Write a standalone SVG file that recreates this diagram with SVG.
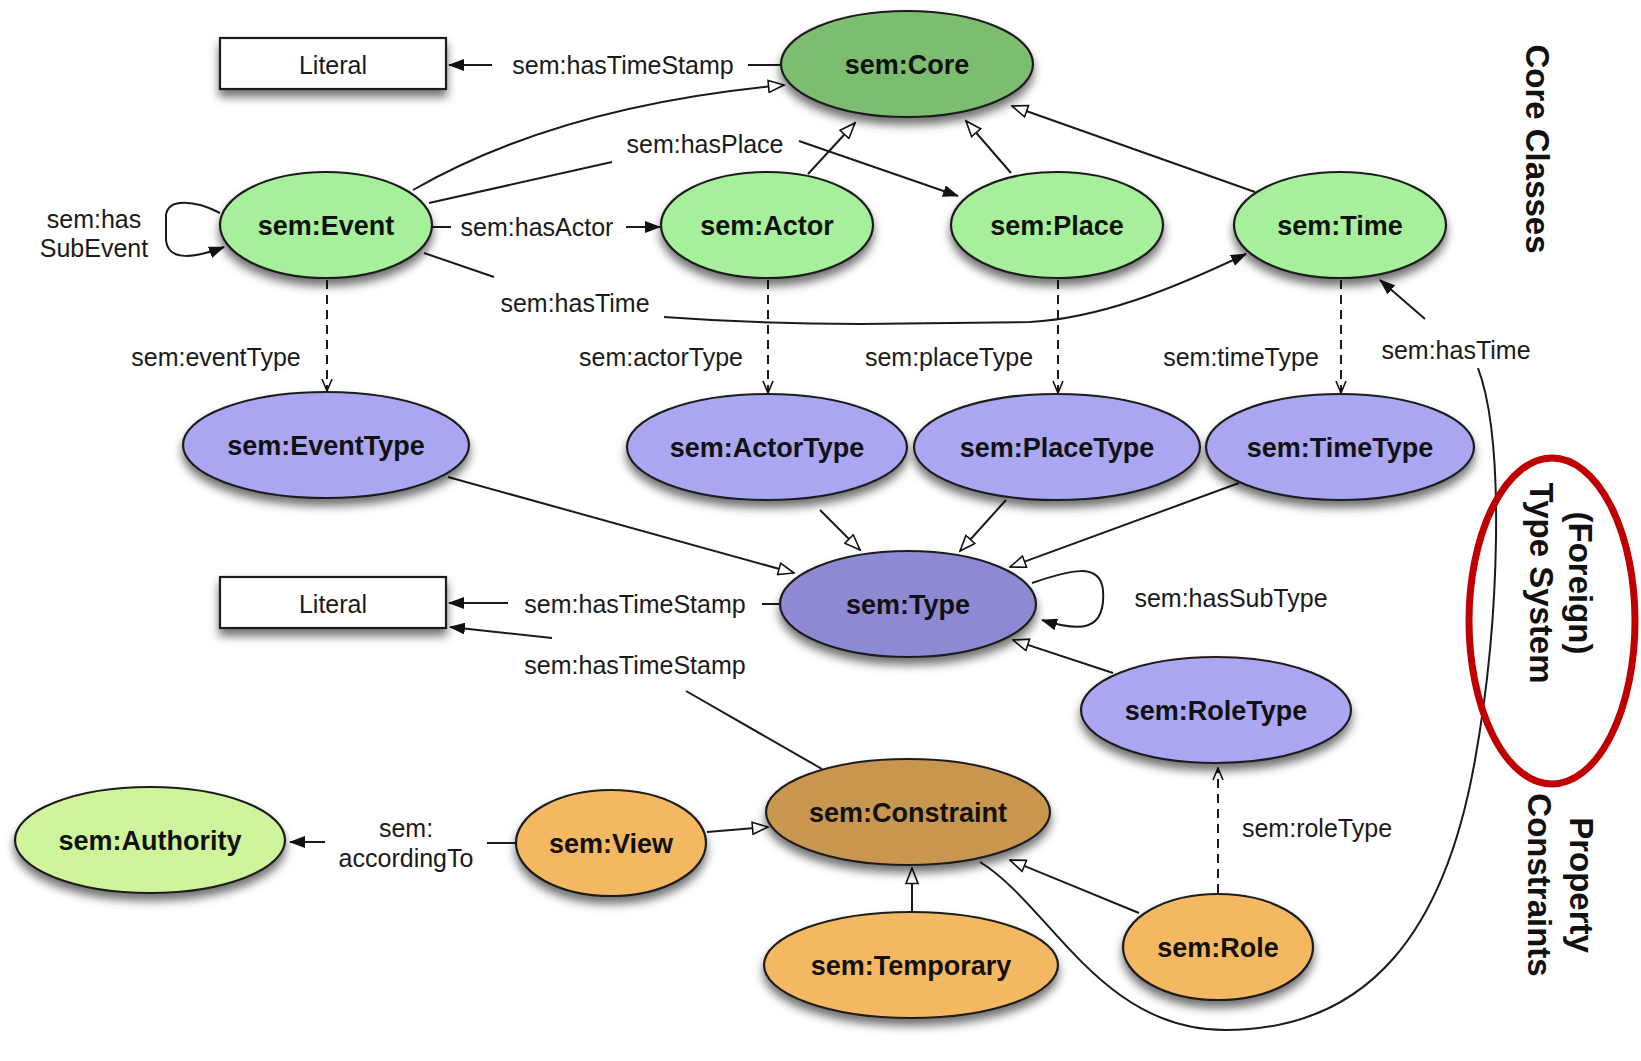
<svg xmlns="http://www.w3.org/2000/svg" width="1641" height="1061" viewBox="0 0 1641 1061">
<style>
.lbl{font-family:"Liberation Sans",Arial,sans-serif;font-size:25px;fill:#1a1a1a;text-anchor:middle}
.nl{font-family:"Liberation Sans",Arial,sans-serif;font-size:27px;font-weight:bold;fill:#111;text-anchor:middle}
.side{font-family:"Liberation Sans",Arial,sans-serif;font-size:33px;font-weight:bold;fill:#111;text-anchor:middle}
.ln{fill:none;stroke:#1a1a1a;stroke-width:2}
.dash{fill:none;stroke:#1a1a1a;stroke-width:2;stroke-dasharray:9,6}
.nd{stroke:#1e1e1e;stroke-width:2.2;filter:url(#sh)}
.core{fill:#7cbd6f}
.cls{fill:#a6f09b}
.typ{fill:#aaa6f2}
.type{fill:#8d89d3}
.con{fill:#c99650}
.org{fill:#f5b862}
.auth{fill:#cff59c}
.lit{fill:#fff}
</style>
<defs>
<filter id="sh" x="-20%" y="-20%" width="140%" height="170%">
<feDropShadow dx="0" dy="7" stdDeviation="5" flood-color="#000" flood-opacity="0.55"/>
</filter>
<marker id="af" viewBox="0 0 16 12" refX="15" refY="6" markerWidth="16" markerHeight="12" orient="auto" markerUnits="userSpaceOnUse">
<path d="M0,0 L16,6 L0,12 z" fill="#111"/>
</marker>
<marker id="ao" viewBox="0 0 18 14" refX="16.5" refY="7" markerWidth="18" markerHeight="14" orient="auto" markerUnits="userSpaceOnUse">
<path d="M1,1 L16.5,7 L1,13 z" fill="#fff" stroke="#111" stroke-width="1.6"/>
</marker>
<marker id="av" viewBox="0 0 14 12" refX="13" refY="6" markerWidth="14" markerHeight="12" orient="auto" markerUnits="userSpaceOnUse">
<path d="M1,1 L13,6 L1,11" fill="none" stroke="#111" stroke-width="1.6"/>
</marker>
</defs>
<rect x="0" y="0" width="1641" height="1061" fill="#fff"/>

<g id="connectors">
<!-- Core hasTimeStamp Literal -->
<path class="ln" d="M782,65 L748,65"/>
<path class="ln" d="M492,65 L449,65" marker-end="url(#af)"/>
<text class="lbl" x="623" y="74">sem:hasTimeStamp</text>
<!-- Event subclass Core -->
<path class="ln" d="M413,190 C500,140 620,100 784,85" marker-end="url(#ao)"/>
<!-- Event hasPlace Place -->
<path class="ln" d="M429,203 L612,162"/>
<path class="ln" d="M799,141 L958,196" marker-end="url(#af)"/>
<text class="lbl" x="705" y="153">sem:hasPlace</text>
<!-- Event hasActor Actor -->
<path class="ln" d="M431,227 L451,227"/>
<path class="ln" d="M626,227 L660,227" marker-end="url(#af)"/>
<text class="lbl" x="537" y="236">sem:hasActor</text>
<!-- Event hasTime Time -->
<path class="ln" d="M424,253 L494,277"/>
<path class="ln" d="M664,317 Q760,324 860,324 L1030,322 C1100,318 1170,290 1246,254" marker-end="url(#af)"/>
<text class="lbl" x="575" y="312">sem:hasTime</text>
<!-- Event self loop hasSubEvent -->
<path class="ln" d="M220,213 C195,200 168,198 166,215 L166,240 C168,262 195,258 224,247" marker-end="url(#af)"/>
<text class="lbl" x="94" y="228">sem:has</text>
<text class="lbl" x="94" y="257">SubEvent</text>
<!-- subclass to Core -->
<path class="ln" d="M808,174 L855,123" marker-end="url(#ao)"/>
<path class="ln" d="M1011,173 L966,121" marker-end="url(#ao)"/>
<path class="ln" d="M1255,192 L1012,106" marker-end="url(#ao)"/>
<!-- type dashed -->
<path class="dash" d="M327,280 L327,391" marker-end="url(#av)"/>
<path class="dash" d="M768,280 L768,393" marker-end="url(#av)"/>
<path class="dash" d="M1058,280 L1058,393" marker-end="url(#av)"/>
<path class="dash" d="M1341,280 L1341,393" marker-end="url(#av)"/>
<text class="lbl" x="216" y="366">sem:eventType</text>
<text class="lbl" x="661" y="366">sem:actorType</text>
<text class="lbl" x="949" y="366">sem:placeType</text>
<text class="lbl" x="1241" y="366">sem:timeType</text>
<!-- Constraint hasTime Time -->
<path class="ln" d="M980,862 C1050,905 1100,1030 1225,1030 C1370,1030 1445,930 1475,760 C1500,620 1505,440 1478,368"/>
<path class="ln" d="M1425,319 L1380,280" marker-end="url(#af)"/>
<text class="lbl" x="1456" y="359">sem:hasTime</text>
<!-- types subclass Type -->
<path class="ln" d="M448,477 L794,573" marker-end="url(#ao)"/>
<path class="ln" d="M820,510 L860,550" marker-end="url(#ao)"/>
<path class="ln" d="M1006,500 L960,551" marker-end="url(#ao)"/>
<path class="ln" d="M1239,483 L1010,567" marker-end="url(#ao)"/>
<!-- Type hasTimeStamp Literal -->
<path class="ln" d="M781,604 L762,604"/>
<path class="ln" d="M508,603 L449,603" marker-end="url(#af)"/>
<text class="lbl" x="635" y="613">sem:hasTimeStamp</text>
<!-- Type self loop -->
<path class="ln" d="M1032,583 C1070,570 1100,562 1103,590 C1106,632 1080,632 1042,620" marker-end="url(#af)"/>
<text class="lbl" x="1231" y="607">sem:hasSubType</text>
<!-- RoleType subclass Type -->
<path class="ln" d="M1113,673 L1013,640" marker-end="url(#ao)"/>
<!-- Constraint hasTimeStamp Literal -->
<path class="ln" d="M822,769 L686,691"/>
<path class="ln" d="M552,638 L450,627" marker-end="url(#af)"/>
<text class="lbl" x="635" y="674">sem:hasTimeStamp</text>
<!-- View subclass Constraint -->
<path class="ln" d="M707,832 L768,827" marker-end="url(#ao)"/>
<!-- View accordingTo Authority -->
<path class="ln" d="M516,843 L487,843"/>
<path class="ln" d="M325,842 L290,842" marker-end="url(#af)"/>
<text class="lbl" x="406" y="837">sem:</text>
<text class="lbl" x="406" y="867">accordingTo</text>
<!-- Temporary subclass Constraint -->
<path class="ln" d="M912,912 L912,868" marker-end="url(#ao)"/>
<!-- Role subclass Constraint -->
<path class="ln" d="M1139,913 L1010,860" marker-end="url(#ao)"/>
<!-- Role roleType RoleType -->
<path class="dash" d="M1218,893 L1218,768" marker-end="url(#av)"/>
<text class="lbl" x="1317" y="837">sem:roleType</text>
</g>

<g id="literal1">
<rect class="lit nd" x="220" y="38" width="226" height="51"/>
<text class="lbl" x="333" y="74">Literal</text>
</g>
<g id="core">
<ellipse class="core nd" cx="907" cy="64" rx="126" ry="53"/>
<text class="nl" x="907" y="74">sem:Core</text>
</g>
<g id="event">
<ellipse class="cls nd" cx="326" cy="225" rx="106" ry="53"/>
<text class="nl" x="326" y="235">sem:Event</text>
</g>
<g id="actor">
<ellipse class="cls nd" cx="767" cy="225" rx="106" ry="53"/>
<text class="nl" x="767" y="235">sem:Actor</text>
</g>
<g id="place">
<ellipse class="cls nd" cx="1057" cy="225" rx="106" ry="53"/>
<text class="nl" x="1057" y="235">sem:Place</text>
</g>
<g id="time">
<ellipse class="cls nd" cx="1340" cy="225" rx="106" ry="53"/>
<text class="nl" x="1340" y="235">sem:Time</text>
</g>
<g id="eventtype">
<ellipse class="typ nd" cx="326" cy="445" rx="143" ry="53"/>
<text class="nl" x="326" y="455">sem:EventType</text>
</g>
<g id="actortype">
<ellipse class="typ nd" cx="767" cy="447" rx="140" ry="53"/>
<text class="nl" x="767" y="457">sem:ActorType</text>
</g>
<g id="placetype">
<ellipse class="typ nd" cx="1057" cy="447" rx="143" ry="53"/>
<text class="nl" x="1057" y="457">sem:PlaceType</text>
</g>
<g id="timetype">
<ellipse class="typ nd" cx="1340" cy="447" rx="134" ry="53"/>
<text class="nl" x="1340" y="457">sem:TimeType</text>
</g>
<g id="type">
<ellipse class="type nd" cx="908" cy="604" rx="128" ry="53"/>
<text class="nl" x="908" y="614">sem:Type</text>
</g>
<g id="literal2">
<rect class="lit nd" x="220" y="577" width="226" height="51"/>
<text class="lbl" x="333" y="613">Literal</text>
</g>
<g id="roletype">
<ellipse class="typ nd" cx="1216" cy="710" rx="135" ry="53"/>
<text class="nl" x="1216" y="720">sem:RoleType</text>
</g>
<g id="constraint">
<ellipse class="con nd" cx="908" cy="812" rx="142" ry="53"/>
<text class="nl" x="908" y="822">sem:Constraint</text>
</g>
<g id="view">
<ellipse class="org nd" cx="611" cy="843" rx="95" ry="53"/>
<text class="nl" x="611" y="853">sem:View</text>
</g>
<g id="authority">
<ellipse class="auth nd" cx="150" cy="840" rx="135" ry="53"/>
<text class="nl" x="150" y="850">sem:Authority</text>
</g>
<g id="temporary">
<ellipse class="org nd" cx="911" cy="965" rx="147" ry="53"/>
<text class="nl" x="911" y="975">sem:Temporary</text>
</g>
<g id="role">
<ellipse class="org nd" cx="1218" cy="947" rx="95" ry="53"/>
<text class="nl" x="1218" y="957">sem:Role</text>
</g>

<g id="sections">
<text class="side" transform="translate(1526,149) rotate(90)">Core Classes</text>
<text class="side" transform="translate(1569,583) rotate(90)">(Foreign)</text>
<text class="side" transform="translate(1530,583) rotate(90)">Type System</text>
<text class="side" transform="translate(1570,885) rotate(90)">Property</text>
<text class="side" transform="translate(1528,885) rotate(90)">Constraints</text>
<ellipse cx="1552" cy="621" rx="83" ry="163" fill="none" stroke="#c00000" stroke-width="7"/>
</g>
</svg>
